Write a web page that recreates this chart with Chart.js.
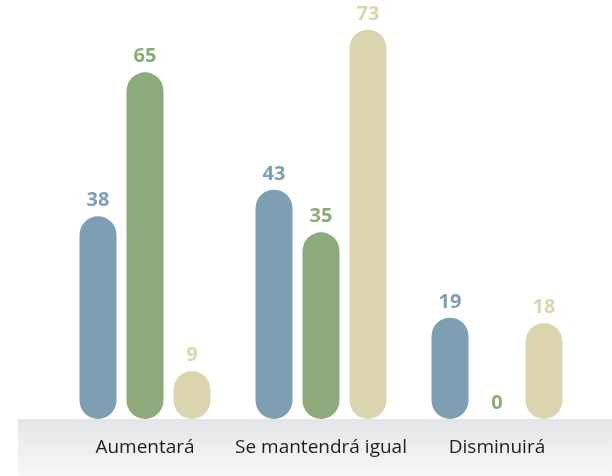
<!DOCTYPE html>
<html>
<head>
<meta charset="utf-8">
<script src="https://cdn.jsdelivr.net/npm/chart.js@4.4.1/dist/chart.umd.min.js"></script>
<style>
    html, body { margin: 0; padding: 0; background: #ffffff; }
    #chart { display: block; }
</style>
</head>
<body>
<canvas id="chart" width="612" height="476"></canvas>
<script>
const categories = ["Aumentará", "Se mantendrá igual", "Disminuirá"];
const seriesBlue = [38, 43, 19];
const seriesGreen = [65, 35, 0];
const seriesBeige = [9, 73, 18];
const seriesColors = ["#7c9fb3", "#8dab7a", "#dbd5b0"];

// grey floor band under the bars
const floorBand = {
    id: "floorBand",
    beforeDraw(chart) {
        const { ctx, chartArea } = chart;
        const top = chartArea.bottom;
        const grad = ctx.createLinearGradient(0, top, 0, chart.height);
        grad.addColorStop(0, "#e4e5e7");
        grad.addColorStop(1, "#f8f8f8");
        ctx.save();
        ctx.fillStyle = grad;
        ctx.fillRect(18, top, chart.width - 18, chart.height - top);
        ctx.restore();
    }
};

// value labels above each bar
const valueLabels = {
    id: "valueLabels",
    afterDatasetsDraw(chart) {
        const { ctx } = chart;
        ctx.save();
        ctx.font = "bold 20px 'Open Sans'";
        ctx.textAlign = "center";
        ctx.textBaseline = "alphabetic";
        chart.data.datasets.forEach((ds, i) => {
            const meta = chart.getDatasetMeta(i);
            ctx.fillStyle = ds.backgroundColor;
            meta.data.forEach((bar, j) => {
                ctx.fillText(ds.data[j], bar.x, bar.y - 10);
            });
        });
        ctx.restore();
    }
};

function makeDataset(label, values, color) {
    return {
        label: label,
        data: values,
        backgroundColor: color,
        borderWidth: 0,
        borderRadius: 19,
        borderSkipped: false,
        categoryPercentage: 0.801,
        barPercentage: 0.787
    };
}

new Chart(document.getElementById("chart"), {
    type: "bar",
    data: {
        labels: categories,
        datasets: [
            makeDataset("A", seriesBlue, seriesColors[0]),
            makeDataset("B", seriesGreen, seriesColors[1]),
            makeDataset("C", seriesBeige, seriesColors[2])
        ]
    },
    options: {
        responsive: false,
        animation: false,
        layout: { padding: { top: 3, left: 57, right: 27, bottom: 0 } },
        plugins: {
            legend: { display: false },
            tooltip: { enabled: false }
        },
        scales: {
            x: {
                grid: { display: false, drawTicks: false },
                border: { display: false },
                afterFit(scale) { scale.height = 57; },
                ticks: {
                    padding: 17,
                    autoSkip: false,
                    maxRotation: 0,
                    minRotation: 0,
                    color: "#1e1e1e",
                    font: { family: "'Open Sans'", size: 19 }
                }
            },
            y: {
                display: false,
                min: 0,
                max: 78
            }
        }
    },
    plugins: [floorBand, valueLabels]
});
</script>
</body>
</html>
